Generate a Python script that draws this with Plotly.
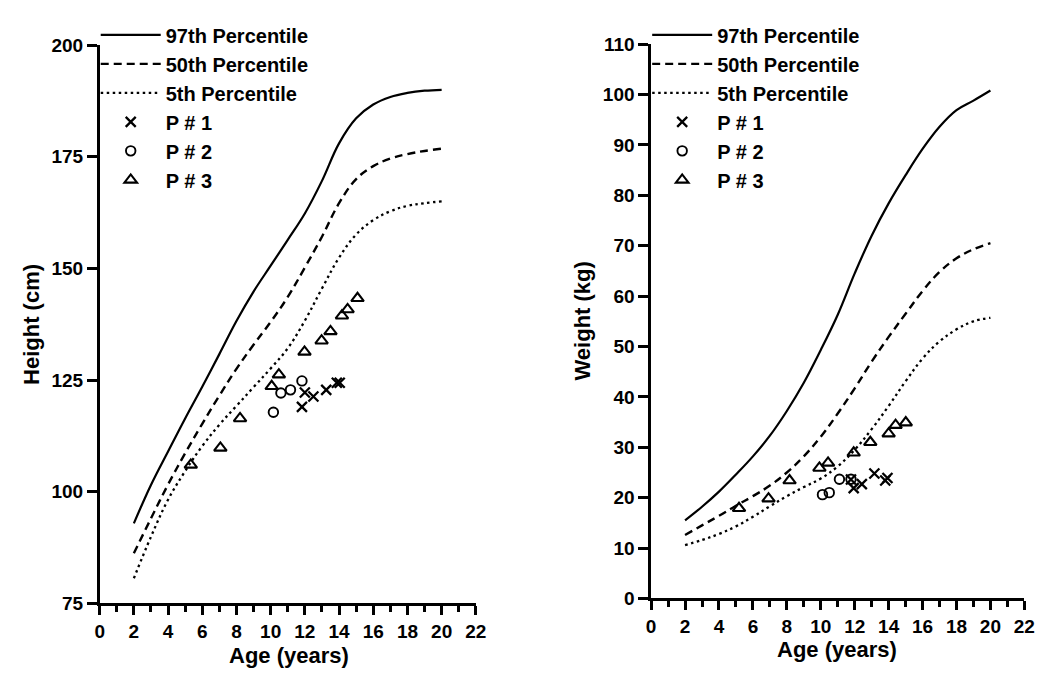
import plotly.graph_objects as go

# ---------------- data ----------------
ages = [2, 3, 4, 5, 6, 7, 8, 9, 10, 11, 12, 13, 14, 15, 16, 17, 18, 19, 20]

height_p97 = [92.9, 101.5, 109.0, 116.4, 123.5, 130.8, 138.2, 144.8, 150.6, 156.4, 162.3, 169.6, 178.0, 183.6, 186.7, 188.4, 189.3, 189.8, 190.0]
height_p50 = [86.2, 94.0, 101.6, 108.6, 115.2, 121.5, 127.5, 132.9, 138.0, 143.6, 150.2, 157.1, 164.6, 170.0, 172.9, 174.6, 175.6, 176.3, 176.8]
height_p5 = [80.6, 89.9, 98.2, 104.6, 110.2, 115.0, 119.2, 123.4, 127.6, 132.1, 138.3, 145.5, 152.4, 157.6, 160.8, 162.8, 164.0, 164.6, 165.0]

weight_p97 = [15.5, 18.2, 21.2, 24.6, 28.2, 32.3, 37.2, 42.8, 49.3, 56.3, 64.5, 72.0, 78.4, 84.0, 89.2, 93.6, 96.9, 98.8, 100.8]
weight_p50 = [12.6, 14.5, 16.4, 18.4, 20.3, 22.4, 25.0, 28.2, 32.1, 36.7, 41.7, 47.0, 51.9, 56.5, 61.0, 64.8, 67.5, 69.3, 70.5]
weight_p5 = [10.6, 11.6, 12.8, 14.3, 16.2, 18.3, 20.3, 22.1, 23.8, 26.2, 29.5, 33.6, 38.2, 43.1, 47.6, 51.0, 53.4, 55.0, 55.7]

# patients - height panel
p1_h_age = [11.83, 12.0, 12.5, 13.25, 13.87, 14.04]
p1_h = [119.0, 122.2, 121.3, 122.8, 124.4, 124.4]
p2_h_age = [10.16, 10.6, 11.16, 11.83]
p2_h = [117.8, 122.1, 122.8, 124.8]
p3_h_age = [5.33, 7.06, 8.21, 10.06, 10.48, 11.98, 12.98, 13.5, 14.17, 14.5, 15.08]
p3_h = [106.0, 109.8, 116.4, 123.6, 126.2, 131.3, 133.8, 135.9, 139.4, 140.8, 143.3]

# patients - weight panel
p1_w_age = [11.78, 11.94, 12.42, 13.16, 13.8, 13.93]
p1_w = [23.6, 21.9, 22.7, 24.8, 23.4, 23.9]
p2_w_age = [10.1, 10.5, 11.1, 11.78]
p2_w = [20.6, 21.0, 23.65, 23.65]
p3_w_age = [5.18, 6.92, 8.16, 9.92, 10.43, 11.94, 12.92, 14.0, 14.41, 15.01]
p3_w = [17.9, 19.8, 23.4, 25.9, 26.9, 28.9, 31.0, 32.7, 34.4, 34.9]

x_ticks = list(range(0, 23, 2))
height_ticks = [75, 100, 125, 150, 175, 200]
weight_ticks = list(range(0, 111, 10))

# ---------------- figure ----------------
FONT = "Liberation Sans, Arial, Helvetica, sans-serif"
fig = go.Figure()

def add_panel(xa, ya, legend, p97, p50, p5, p1x, p1y, p2x, p2y, p3x, p3y):
    common = dict(xaxis=xa, yaxis=ya, legend=legend)
    fig.add_trace(go.Scatter(x=ages, y=p97, mode="lines", name="97th Percentile",
                             line=dict(color="black", width=2.2, shape="spline", smoothing=1.1), **common))
    fig.add_trace(go.Scatter(x=ages, y=p50, mode="lines", name="50th Percentile",
                             line=dict(color="black", width=2.4, dash="8px,5px", shape="spline", smoothing=1.1), **common))
    fig.add_trace(go.Scatter(x=ages, y=p5, mode="lines", name="5th Percentile",
                             line=dict(color="black", width=2.3, dash="2.5px,3.5px", shape="spline", smoothing=1.1), **common))
    fig.add_trace(go.Scatter(x=p1x, y=p1y, mode="markers", name="P # 1",
                             marker=dict(symbol="x-thin", size=10, color="black",
                                         line=dict(color="black", width=2.3)), **common))
    fig.add_trace(go.Scatter(x=p2x, y=p2y, mode="markers", name="P # 2",
                             marker=dict(symbol="circle-open", size=9.5, color="black",
                                         line=dict(color="black", width=1.9)), **common))
    fig.add_trace(go.Scatter(x=p3x, y=p3y, mode="markers", name="P # 3",
                             marker=dict(symbol="triangle-up-open", size=11, color="black",
                                         line=dict(color="black", width=2.1)), **common))

add_panel("x", "y", "legend", height_p97, height_p50, height_p5,
          p1_h_age, p1_h, p2_h_age, p2_h, p3_h_age, p3_h)
add_panel("x2", "y2", "legend2", weight_p97, weight_p50, weight_p5,
          p1_w_age, p1_w, p2_w_age, p2_w, p3_w_age, p3_w)

W, H = 1050, 678
tickfont = dict(family=FONT, size=19, color="black", weight="bold")

def xaxis_cfg(x0, x1, anchor):
    return dict(domain=[x0 / W, x1 / W], range=[0, 22], tickvals=x_ticks, anchor=anchor,
                showline=True, linecolor="black", linewidth=2.5,
                ticks="outside", ticklen=9, tickwidth=2.5, tickcolor="black",
                minor=dict(dtick=1, tick0=0, ticks="outside", ticklen=6, tickwidth=2.5, tickcolor="black"),
                showgrid=False, zeroline=False, tickfont=tickfont, fixedrange=True)

def yaxis_cfg(y_top, y_bot, rng, tv, anchor):
    return dict(domain=[1 - y_bot / H, 1 - y_top / H], range=rng, tickvals=tv, anchor=anchor,
                showline=True, linecolor="black", linewidth=2.5,
                ticks="outside", ticklen=10, tickwidth=2.5, tickcolor="black",
                showgrid=False, zeroline=False, tickfont=tickfont, fixedrange=True)

legfont = dict(family=FONT, size=20, color="black", weight="bold")

fig.update_layout(
    width=W, height=H,
    margin=dict(l=0, r=0, t=0, b=0),
    paper_bgcolor="white", plot_bgcolor="white",
    xaxis=xaxis_cfg(88, 470, "y"),
    yaxis=yaxis_cfg(28, 604, [75, 200], height_ticks, "x"),
    xaxis2=xaxis_cfg(648, 1027, "y2"),
    yaxis2=yaxis_cfg(27, 599, [0, 110], weight_ticks, "x2"),
    legend=dict(x=84 / W, y=1.004, xanchor="left", yanchor="top",
                bgcolor="rgba(0,0,0,0)", font=legfont, itemwidth=60, tracegroupgap=0),
    legend2=dict(x=644 / W, y=1.004, xanchor="left", yanchor="top",
                 bgcolor="rgba(0,0,0,0)", font=legfont, itemwidth=60, tracegroupgap=0),
    showlegend=True,
)

title_font = dict(family=FONT, size=22, color="black", weight="bold")
fig.add_annotation(text="Height (cm)", x=18 / W, y=1 - 316 / H, xref="paper", yref="paper",
                   textangle=-90, showarrow=False, font=title_font, xanchor="center", yanchor="middle")
fig.add_annotation(text="Weight (kg)", x=578 / W, y=1 - 313 / H, xref="paper", yref="paper",
                   textangle=-90, showarrow=False, font=title_font, xanchor="center", yanchor="middle")
fig.add_annotation(text="Age (years)", x=280 / W, y=1 - 658 / H, xref="paper", yref="paper",
                   showarrow=False, font=title_font, xanchor="center", yanchor="middle")
fig.add_annotation(text="Age (years)", x=837 / W, y=1 - 652 / H, xref="paper", yref="paper",
                   showarrow=False, font=title_font, xanchor="center", yanchor="middle")

fig.write_html("out.html")
